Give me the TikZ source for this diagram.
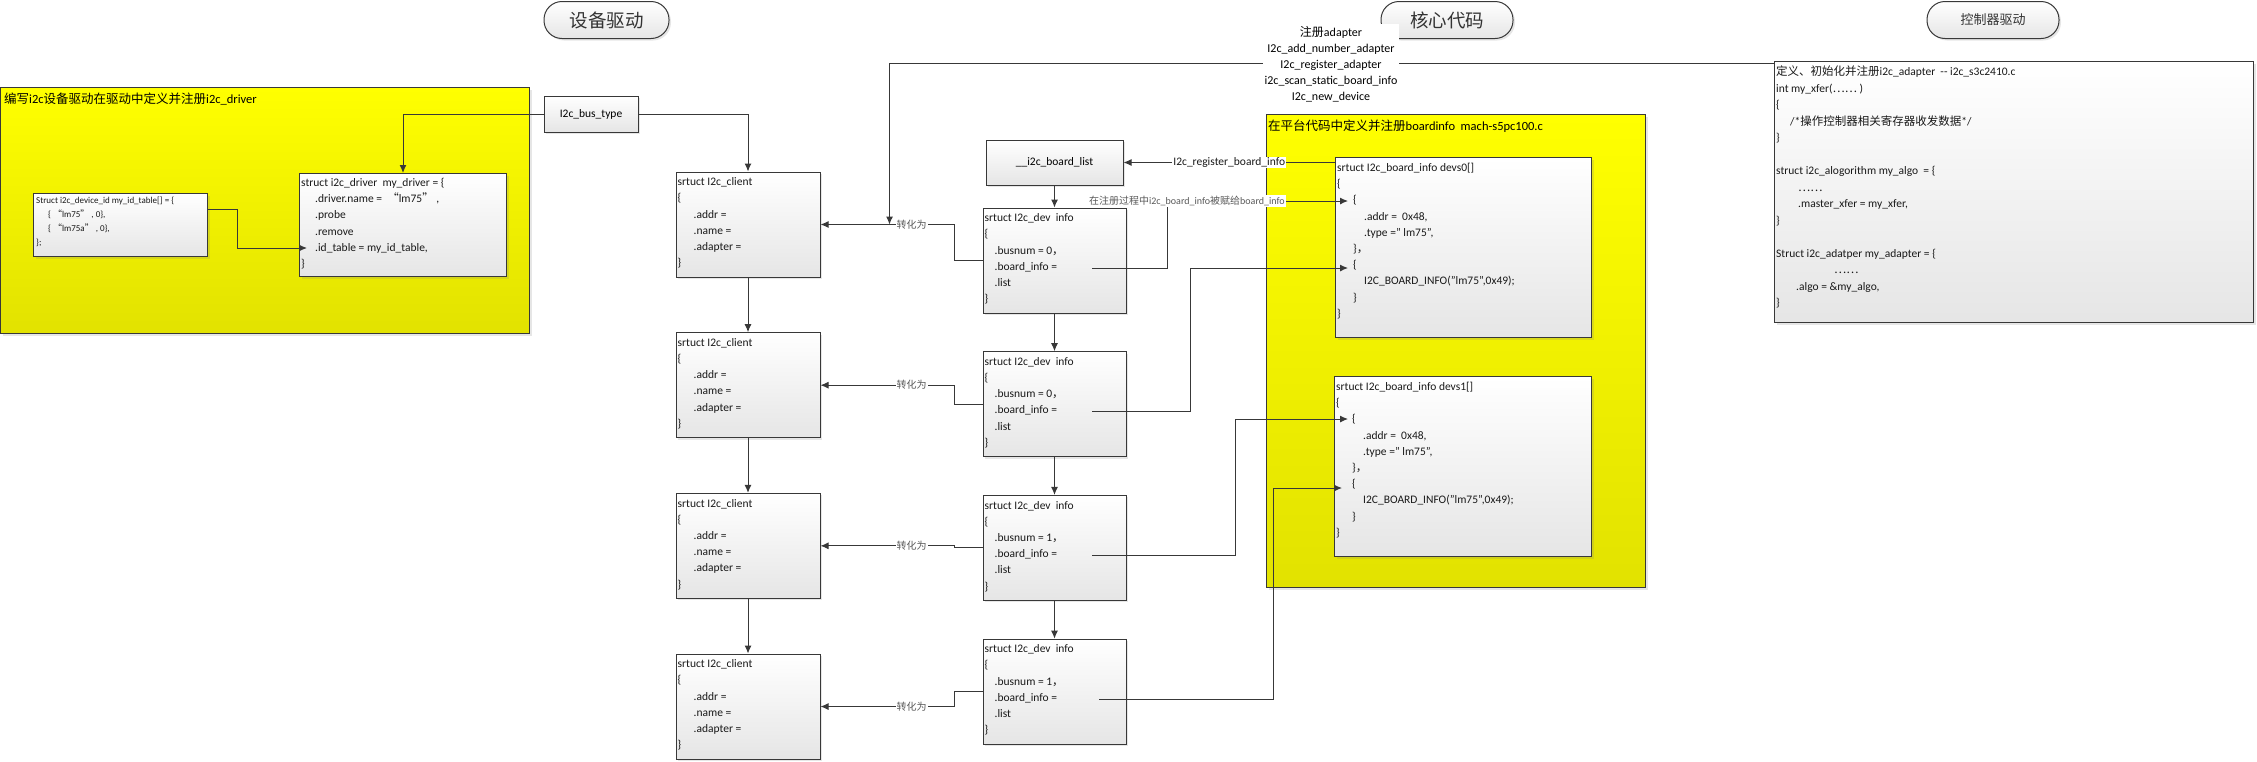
\documentclass[tikz,border=0pt]{standalone}
\usepackage{fontspec}
\setmainfont{Carlito}
\newfontfamily\cjk{Noto Sans CJK SC}
\usetikzlibrary{arrows.meta,shadows,calc}
\newcommand\indt[1]{\hspace*{#1pt}}

\begin{document}
\begin{tikzpicture}[x=1pt,y=-1pt,
  ln/.style={draw=black!78,line width=1pt},
  arr/.style={ln,-{Latex[length=8pt,width=7pt]}},
  box/.style={draw=black!78,line width=1pt,top color=white,bottom color=black!10,
    drop shadow={shadow xshift=2pt,shadow yshift=-2pt,opacity=.2},inner sep=0pt,
    font=\fontsize{11.5}{14}\selectfont},
  ybox/.style={draw=black!78,line width=1pt,top color=yel1,bottom color=yel2,anchor=north west,
    drop shadow={shadow xshift=2pt,shadow yshift=-2pt,opacity=.2}},
  pill/.style={box,rounded corners=18pt,minimum height=37pt,text=black!80},
  code/.style={anchor=north west,align=left,inner sep=0pt,text=black!90,font=\fontsize{11.5}{16.2}\selectfont},
  tag/.style={fill=white,inner sep=1pt,text=black!65,font=\fontsize{10}{12}\selectfont}]
\definecolor{yel1}{HTML}{FFFF00}
\definecolor{yel2}{HTML}{E2E200}
\useasboundingbox (0,0) rectangle (2257,761);

% yellow areas
\node[ybox,minimum width=529pt,minimum height=246pt] (y1) at (0,87) {};
\node[anchor=west,inner sep=0pt,font=\fontsize{12.5}{14}\selectfont] (t1) at (4,99) {{\cjk 编写}i2c{\cjk 设备驱动在驱动中定义并注册}i2c\_driver};
\node[ybox,minimum width=379pt,minimum height=473pt] (y2) at (1266,114) {};
\node[anchor=west,inner sep=0pt,font=\fontsize{12.5}{14}\selectfont] (t2) at (1268,126) {{\cjk 在平台代码中定义并注册}boardinfo\ \ mach-s5pc100.c};

% headings
\node[pill,minimum width=125pt,font=\fontsize{18.5}{20}\selectfont\cjk] (p1) at (606.5,20) {设备驱动};
\node[pill,minimum width=132pt,font=\fontsize{18.5}{20}\selectfont\cjk] (p2) at (1447,20) {核心代码};
\node[pill,minimum width=132pt,font=\fontsize{13}{15}\selectfont\cjk] (p3) at (1993,20) {控制器驱动};

% device driver
\node[box,minimum width=94pt,minimum height=36pt] (bus) at (591,114) {I2c\_bus\_type};
\node[box,minimum width=207pt,minimum height=103pt,anchor=north west] (drv) at (299,173) {};
\node[code] (drvt) at ($(drv.north west)+(2,5)$) {struct i2c\_driver\ \ my\_driver = \{\\
\indt{14}.driver.name =\ \ {\cjk “}lm75{\cjk ”} ,\\\indt{14}.probe\\\indt{14}.remove\\
\indt{14}.id\_table = my\_id\_table,\\\}};
\node[box,minimum width=174pt,minimum height=63pt,anchor=north west] (idt) at (33,193) {};
\node[code,font=\fontsize{9}{14}\selectfont] (idtt) at ($(idt.north west)+(3,3.5)$) {Struct i2c\_device\_id my\_id\_table[] = \{\\
\indt{12}\{ {\cjk “}lm75{\cjk ”} , 0\},\\\indt{12}\{ {\cjk “}lm75a{\cjk ”} , 0\},\\\};};

% core
\node[box,minimum width=137pt,minimum height=45pt] (bl) at (1054.5,162.5) {\_\_i2c\_board\_list};
\foreach \i in {1,...,4}{
  \node[box,minimum width=144pt,minimum height=105pt] (c\i) at (748,{224.5+160.67*(\i-1)}) {};
  \node[code] (ct\i) at ($(c\i.north west)+(2,6)$) {srtuct I2c\_client\\\{\\\indt{16}.addr =\\\indt{16}.name =\\\indt{16}.adapter =\\\}};
}
\foreach \i/\bn in {1/0,2/0,3/1,4/1}{
  \node[box,minimum width=143pt,minimum height=105pt] (d\i) at (1054.5,{260.5+143.7*(\i-1)}) {};
  \node[code] (dt\i) at ($(d\i.north west)+(2,6)$) {srtuct I2c\_dev\ \ info\\\{\\\indt{10}.busnum = \bn{\cjk ，}\\\indt{10}.board\_info =\\\indt{10}.list\\\}};
}

% board info
\node[box,minimum width=256pt,minimum height=180pt,anchor=north west] (devs0) at (1335,157) {};
\node[code] (devs0t) at ($(devs0.north west)+(2,6)$) {srtuct I2c\_board\_info devs0[]\\\{\\\indt{16}\{\\
\indt{27}.addr =\ \ 0x48,\\\indt{27}.type =" lm75",\\\indt{16}\}{\cjk ，}\\\indt{16}\{\\
\indt{27}I2C\_BOARD\_INFO("lm75",0x49);\\\indt{16}\}\\\}};
\node[box,minimum width=257pt,minimum height=180pt,anchor=north west] (devs1) at (1334,376) {};
\node[code] (devs1t) at ($(devs1.north west)+(2,6)$) {srtuct I2c\_board\_info devs1[]\\\{\\\indt{16}\{\\
\indt{27}.addr =\ \ 0x48,\\\indt{27}.type =" lm75",\\\indt{16}\}{\cjk ，}\\\indt{16}\{\\
\indt{27}I2C\_BOARD\_INFO("lm75",0x49);\\\indt{16}\}\\\}};

% controller driver
\node[box,minimum width=479pt,minimum height=261pt,anchor=north west] (ctl) at (1774,61) {};
\node[code,font=\fontsize{11.5}{16.5}\selectfont] (ctlt) at ($(ctl.north west)+(2,5)$) {{\cjk 定义、初始化并注册}i2c\_adapter\ \ -{}- i2c\_s3c2410.c\\
int my\_xfer({\cjk ……} )\\\{\\\indt{14}/*{\cjk 操作控制器相关寄存器收发数据}*/\\\}\\\mbox{}\\
struct i2c\_alogorithm my\_algo\ \ = \{\\\indt{22}{\cjk ……}\\\indt{22}.master\_xfer = my\_xfer,\\\}\\\mbox{}\\
Struct i2c\_adatper my\_adapter = \{\\\indt{58}{\cjk ……}\\\indt{20}.algo = \&my\_algo,\\\}};

% connections
\draw[arr] (bus.west) -| (drv.north);
\draw[arr] (bus.east) -| (c1.north);
\draw[arr] ($(idt.north east)+(0,16)$) -- ++(29.5,0) |- ($(drv.south west)+(8,-29)$);
\draw[arr] (bl) -- (d1);
\foreach \i [count=\j from 2] in {1,2,3}{
  \draw[arr] (c\i) -- (c\j);
  \draw[arr] (d\i) -- (d\j);
}
\foreach \i in {1,...,4}
  \draw[arr] (d\i.west) -- ++(-28,0) |- node[tag,pos=.66]{\cjk 转化为} (c\i.east);
\draw[arr] (devs0.west |- bl.east) -- node[tag,text=black!90,font=\fontsize{11.5}{14}\selectfont]{I2c\_register\_board\_info} (bl.east);
\draw[arr] ($(d1.center)+(37.5,7.5)$) -- ++(75,0) |- node[tag,pos=.555]{{\cjk 在注册过程中}i2c\_board\_info{\cjk 被赋给}board\_info} ($(devs0.north west)+(13,44)$);
\draw[arr] ($(d2.center)+(37.5,7.5)$) -- ++(98,0) |- ($(devs0.north west)+(13,111)$);
\draw[arr] ($(d3.center)+(37.5,7.5)$) -- ++(143,0) |- ($(devs1.north west)+(14,43)$);
\draw[arr] ($(d4.center)+(44.5,7.5)$) -- ++(174,0) |- ($(devs1.north west)+(8,112)$);
\coordinate (m1) at ($(c1.east)+(69,0)$);
\draw[arr] ($(ctl.north west)+(0,2)$) -| (m1);
\node[fill=white,align=center,inner sep=2pt,font=\fontsize{12}{16}\selectfont] (core) at (1331,64) {{\cjk 注册}adapter\\I2c\_add\_number\_adapter\\I2c\_register\_adapter\\i2c\_scan\_static\_board\_info\\I2c\_new\_device};
\end{tikzpicture}
\end{document}
